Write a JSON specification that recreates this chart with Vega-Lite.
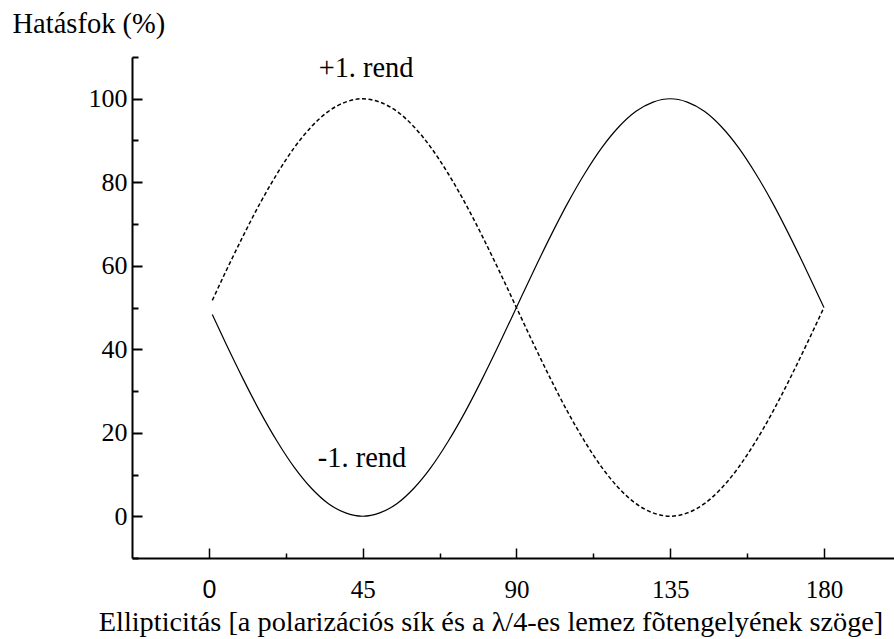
{
  "$schema": "https://vega.github.io/schema/vega-lite/v6.json",
  "width": 762,
  "height": 501,
  "autosize": {"type": "none"},
  "padding": {"left": 132, "top": 57, "right": 0, "bottom": 81},
  "background": "white",
  "config": {"view": {"stroke": null}, "axis": {"grid": false}},
  "data": {"values": [
    {"x": 1, "plus": 51.7, "minus": 48.3},
    {"x": 5, "plus": 58.7, "minus": 41.3},
    {"x": 10, "plus": 67.1, "minus": 32.9},
    {"x": 15, "plus": 75.0, "minus": 25.0},
    {"x": 20, "plus": 82.1, "minus": 17.9},
    {"x": 25, "plus": 88.3, "minus": 11.7},
    {"x": 30, "plus": 93.3, "minus": 6.7},
    {"x": 35, "plus": 97.0, "minus": 3.0},
    {"x": 40, "plus": 99.2, "minus": 0.8},
    {"x": 45, "plus": 100, "minus": 0},
    {"x": 50, "plus": 99.2, "minus": 0.8},
    {"x": 55, "plus": 97.0, "minus": 3.0},
    {"x": 60, "plus": 93.3, "minus": 6.7},
    {"x": 65, "plus": 88.3, "minus": 11.7},
    {"x": 70, "plus": 82.1, "minus": 17.9},
    {"x": 75, "plus": 75.0, "minus": 25.0},
    {"x": 80, "plus": 67.1, "minus": 32.9},
    {"x": 85, "plus": 58.7, "minus": 41.3},
    {"x": 90, "plus": 50, "minus": 50},
    {"x": 95, "plus": 41.3, "minus": 58.7},
    {"x": 100, "plus": 32.9, "minus": 67.1},
    {"x": 105, "plus": 25.0, "minus": 75.0},
    {"x": 110, "plus": 17.9, "minus": 82.1},
    {"x": 115, "plus": 11.7, "minus": 88.3},
    {"x": 120, "plus": 6.7, "minus": 93.3},
    {"x": 125, "plus": 3.0, "minus": 97.0},
    {"x": 130, "plus": 0.8, "minus": 99.2},
    {"x": 135, "plus": 0, "minus": 100},
    {"x": 140, "plus": 0.8, "minus": 99.2},
    {"x": 145, "plus": 3.0, "minus": 97.0},
    {"x": 150, "plus": 6.7, "minus": 93.3},
    {"x": 155, "plus": 11.7, "minus": 88.3},
    {"x": 160, "plus": 17.9, "minus": 82.1},
    {"x": 165, "plus": 25.0, "minus": 75.0},
    {"x": 170, "plus": 32.9, "minus": 67.1},
    {"x": 175, "plus": 41.3, "minus": 58.7},
    {"x": 180, "plus": 50, "minus": 50}
  ]},
  "encoding": {
    "x": {
      "field": "x", "type": "quantitative",
      "scale": {"domain": [-22.5, 200.5], "nice": false, "zero": false},
      "axis": {
        "values": [0, 22.5, 45, 67.5, 90, 112.5, 135, 157.5, 180],
        "labelExpr": "datum.value % 45 === 0 ? datum.label : ''",
        "labelOverlap": false,
        "labelFlush": false,
        "labelFont": {"condition": {"test": "datum.value === 0", "value": "Liberation Sans"}, "value": "Times New Roman, Liberation Serif, serif"},
        "labelFontSize": 25,
        "labelColor": "black",
        "labelBaseline": "alphabetic",
        "labelPadding": 49,
        "ticks": true,
        "tickSize": {"condition": {"test": "datum.value % 45 === 0", "value": -10}, "value": -5},
        "tickColor": "black",
        "tickWidth": 1.5,
        "domainColor": "black",
        "domainWidth": 2,
        "title": "Ellipticitás [a polarizációs sík és a λ/4-es lemez fõtengelyének szöge]",
        "titleFont": "Times New Roman, Liberation Serif, serif",
        "titleFontSize": 28.3,
        "titleFontWeight": "normal",
        "titleColor": "black",
        "titleAlign": "center",
        "titleBaseline": "alphabetic",
        "titleX": 358.5,
        "titleY": 72
      }
    },
    "y": {
      "field": "plus", "type": "quantitative",
      "scale": {"domain": [-10, 110], "nice": false, "zero": false},
      "axis": {
        "values": [-10, 0, 10, 20, 30, 40, 50, 60, 70, 80, 90, 100, 110],
        "labelExpr": "(datum.value % 20 === 0 && datum.value >= 0 && datum.value <= 100) ? datum.label : ''",
        "labelOverlap": false,
        "labelFlush": false,
        "labelFont": "Times New Roman, Liberation Serif, serif",
        "labelFontSize": 26,
        "labelColor": "black",
        "labelBaseline": "middle",
        "labelPadding": 15,
        "ticks": true,
        "tickSize": {"condition": {"test": "datum.value % 20 === 0", "value": -10}, "value": -6},
        "tickColor": "black",
        "tickWidth": 2,
        "domainColor": "black",
        "domainWidth": 2,
        "title": "Hatásfok (%)",
        "titleFont": "Times New Roman, Liberation Serif, serif",
        "titleFontSize": 28.5,
        "titleFontWeight": "normal",
        "titleColor": "black",
        "titleAngle": 0,
        "titleAlign": "left",
        "titleBaseline": "alphabetic",
        "titleX": -120,
        "titleY": -25
      }
    }
  },
  "layer": [
    {
      "mark": {"type": "line", "interpolate": "monotone", "color": "black", "strokeWidth": 1.5, "strokeDash": [4, 2.5]}
    },
    {
      "mark": {"type": "line", "interpolate": "monotone", "color": "black", "strokeWidth": 1.2},
      "encoding": {
        "y": {"field": "minus", "type": "quantitative"}
      }
    },
    {
      "data": {"values": [
        {"x": 46, "plus": 105.2, "label": "+1. rend"},
        {"x": 44.8, "plus": 11.9, "label": "-1. rend"}
      ]},
      "mark": {"type": "text", "font": "Times New Roman, Liberation Serif, serif", "fontSize": 28.4, "color": "black", "align": "center", "baseline": "alphabetic"},
      "encoding": {
        "text": {"field": "label"}
      }
    }
  ]
}
